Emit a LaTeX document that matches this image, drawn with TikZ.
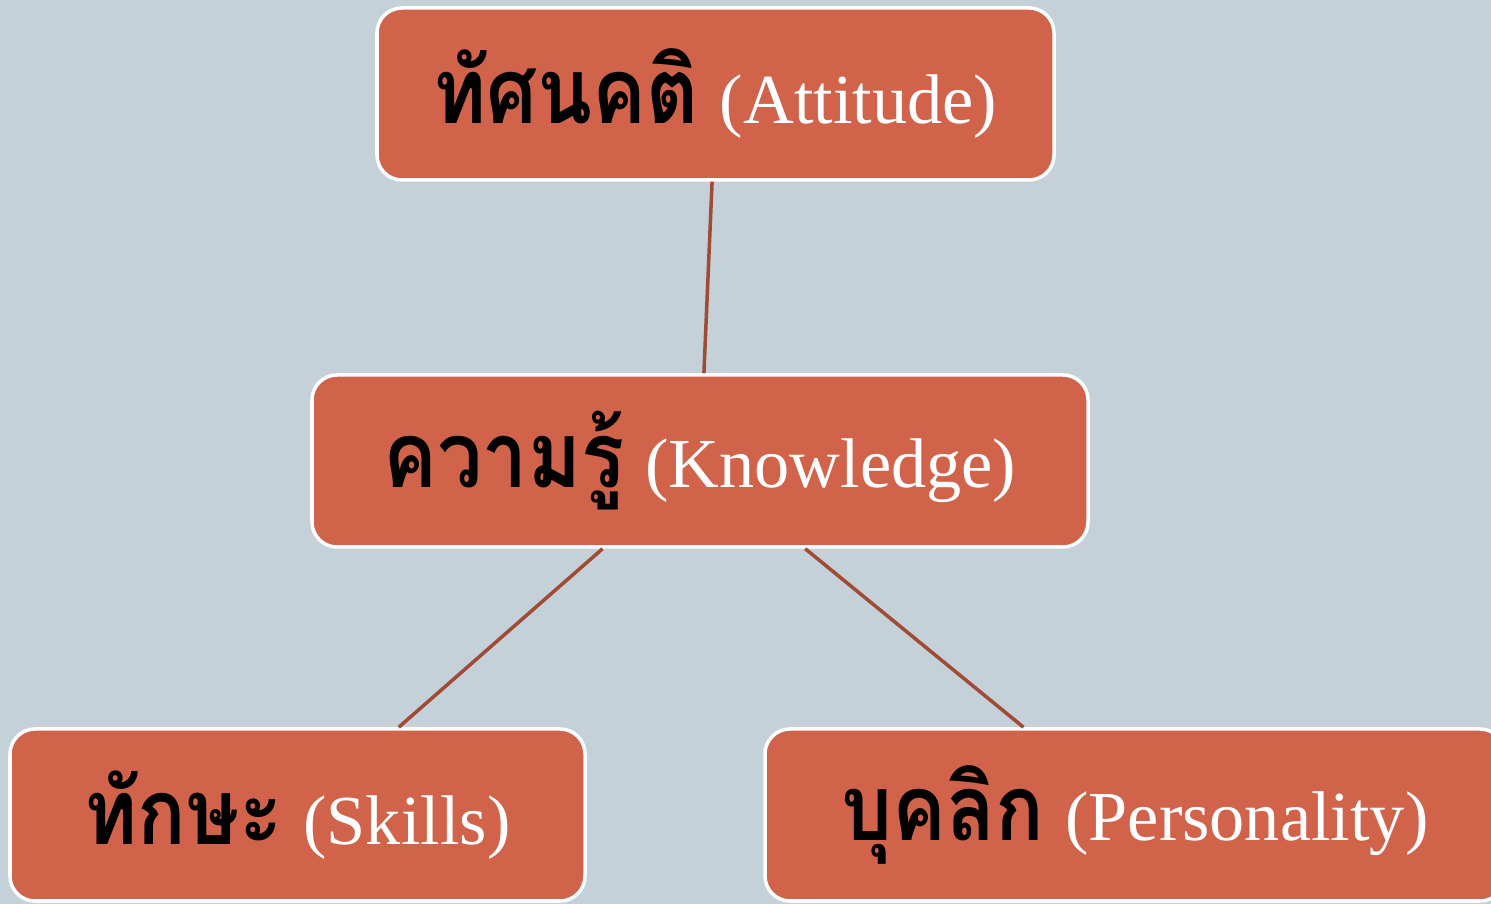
\documentclass[tikz,border=0pt]{standalone}
\usepackage{fontspec}
\setmainfont{Liberation Serif}
\newfontfamily\thaifont[Script=Thai,FakeStretch=0.88]{Loma}
\usetikzlibrary{calc}
\definecolor{slidebg}{HTML}{C5D1D8}
\definecolor{boxfill}{HTML}{D0634A}
\definecolor{linkline}{HTML}{A04B36}
\newcommand\thaiword[1]{{\thaifont\bfseries\fontsize{52}{60}\selectfont\color{black}#1}}
\newcommand\engword[1]{{\fontsize{40}{48}\selectfont\color{white}#1}}

\begin{document}
\begin{tikzpicture}[
  trait/.style={draw=white,line width=2pt,fill=boxfill,rounded corners=0.5cm,
    minimum height=3.44cm,inner sep=0pt},
  link/.style={draw=linkline,line width=2pt}]
\fill[slidebg](0,0) rectangle (29.82,18.08);
\useasboundingbox (0,0) rectangle (29.82,18.08);
% the four boxes
\node[trait,minimum width=13.54cm](attitude) at (14.31,16.20){\thaiword{ทัศนคติ}\hspace{12pt}\engword{(Attitude)}};
\node[trait,minimum width=15.52cm](knowledge) at (14.00,8.86){\thaiword{ความรู้}\hspace{12pt}\engword{(Knowledge)}};
\node[trait,minimum width=11.50cm](skills) at (5.95,1.78){\thaiword{ทักษะ}\hspace{12pt}\engword{(Skills)}};
\node[trait,minimum width=14.80cm](personality) at (22.70,1.78){\thaiword{บุคลิก}\hspace{12pt}\engword{(Personality)}};
% links
\draw[link]($(attitude.south west)!0.495!(attitude.south east)$) -- ($(knowledge.north west)!0.505!(knowledge.north east)$);
\draw[link]($(knowledge.south west)!0.375!(knowledge.south east)$) -- ($(skills.north west)!0.675!(skills.north east)$);
\draw[link]($(knowledge.south west)!0.635!(knowledge.south east)$) -- ($(personality.north west)!0.35!(personality.north east)$);
\end{tikzpicture}
\end{document}
